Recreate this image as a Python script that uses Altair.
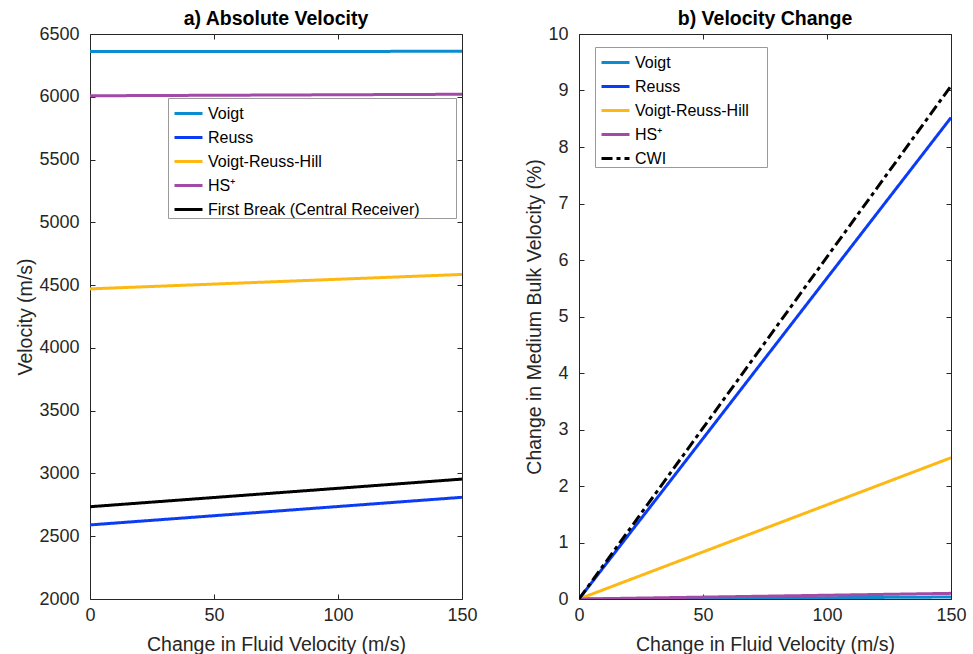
import altair as alt
import pandas as pd

FONT = "Liberation Sans"
NB = "\u00a0"
ZW = "\u200b"

x_vals = [0, 150]

names_a = ["Voigt", "Reuss", "Voigt-Reuss-Hill", "HS⁺", "First Break (Central Receiver)"]
colors_a = ["#0b8bd0", "#0b3cf5", "#fdb813", "#a24ba6", "#000000"]
dash_a = [[1, 0], [1, 0], [1, 0], [1, 0], [1, 0]]
voigt_abs = [6360, 6362]
reuss_abs = [2590, 2810]
vrh_abs = [4470, 4585]
hs_abs = [6008, 6020]
fb_abs = [2735, 2955]
vals_a = [voigt_abs, reuss_abs, vrh_abs, hs_abs, fb_abs]

names_b = ["Voigt", "Reuss", "Voigt-Reuss-Hill", "HS⁺", "CWI"]
colors_b = ["#0b8bd0", "#0b3cf5", "#fdb813", "#a24ba6", "#000000"]
dash_b = [[1, 0], [1, 0], [1, 0], [1, 0], [11, 4, 4, 4]]
voigt_chg = [0, 0.035]
reuss_chg = [0, 8.52]
vrh_chg = [0, 2.5]
hs_chg = [0, 0.1]
cwi_chg = [0, 9.08]
vals_b = [voigt_chg, reuss_chg, vrh_chg, hs_chg, cwi_chg]


def make_df(names, vals, tag):
    rows = []
    for i, (n, v) in enumerate(zip(names, vals)):
        for xv, yv in zip(x_vals, v):
            rows.append({"series" + tag: n, "x": xv, "y": yv, "k": i})
    return pd.DataFrame(rows)


def panel(names, colors, dashes, vals, ydom, yvals, ytitle, title, legx, legy, tag, pad_n):
    df = make_df(names, vals, tag)
    field = "series" + tag + ":N"
    legend = alt.Legend(
        title=None, orient="none", legendX=legx, legendY=legy,
        strokeColor="#9a9a9a", fillColor="white", padding=0,
        symbolType="stroke", symbolStrokeWidth=3, symbolSize=784,
        labelFont=FONT, labelFontSize=16, labelColor="#000",
        labelLimit=400, rowPadding=-10, symbolOffset=5, labelOffset=4,
        labelExpr="datum.label + '" + NB * pad_n + ZW + "'",
    )
    xscale = alt.Scale(domain=[0, 150], nice=False, zero=False)
    yscale = alt.Scale(domain=ydom, nice=False, zero=False)
    lines = alt.Chart(df).mark_line(strokeWidth=3, clip=True).encode(
        x=alt.X("x:Q", scale=xscale, axis=alt.Axis(
            values=[0, 50, 100, 150], title="Change in Fluid Velocity (m/s)", format="d",
            orient="bottom", offset=-5, tickSize=5, domain=False, grid=False,
            labelFlush=False, labelPadding=7, titlePadding=11)),
        y=alt.Y("y:Q", scale=yscale, axis=alt.Axis(
            values=yvals, title=ytitle, orient="left", offset=-5, tickSize=5, format="d",
            domain=False, grid=False, labelFlush=False, labelPadding=11, titlePadding=3)),
        color=alt.Color(field, scale=alt.Scale(domain=names, range=colors),
                        sort=names, legend=legend),
        strokeDash=alt.StrokeDash(field, scale=alt.Scale(domain=names, range=dashes),
                                  sort=names, legend=legend),
        order=alt.Order("k:Q"),
    )
    ticks = alt.Chart(df).mark_point(opacity=0).encode(
        x=alt.X("x:Q", scale=xscale, axis=alt.Axis(
            values=[0, 50, 100, 150], title=None, labels=False, orient="top",
            offset=-5, tickSize=5, domain=False, grid=False)),
        y=alt.Y("y:Q", scale=yscale, axis=alt.Axis(
            values=yvals, title=None, labels=False, orient="right",
            offset=-5, tickSize=5, domain=False, grid=False)),
    )
    return alt.layer(lines, ticks).resolve_axis(x="independent", y="independent").properties(
        width=372, height=565,
        title=alt.TitleParams(title, font=FONT, fontSize=19.5, fontWeight="bold", offset=-4,
                              color="#000"),
    )


left = panel(names_a, colors_a, dash_a, vals_a, [2000, 6500],
             list(range(2000, 6501, 500)), "Velocity (m/s)", "a) Absolute Velocity", 78, 64, "A", 8)
right = panel(names_b, colors_b, dash_b, vals_b, [0, 10],
              list(range(0, 11)), "Change in Medium Bulk Velocity (%)", "b) Velocity Change", 16, 13, "B", 4)

chart = alt.hconcat(left, right, spacing=46).resolve_scale(
    color="independent", strokeDash="independent"
).properties(
    padding={"left": 15, "top": 8, "right": 0, "bottom": 0},
    background="white",
).configure_view(stroke="#262626", strokeWidth=1).configure_axis(
    labelFont=FONT, titleFont=FONT, labelFontSize=18, titleFontSize=19.5,
    labelColor="#262626", titleColor="#262626", tickColor="#262626",
    titleFontWeight="normal",
)

chart.save("out.html", embed_options={"renderer": "svg", "actions": False})
